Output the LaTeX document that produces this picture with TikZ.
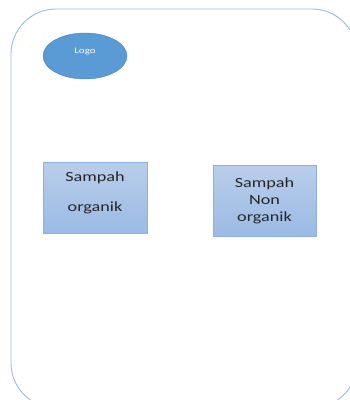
\documentclass[tikz,border=0pt]{standalone}
\usepackage{fontspec}
\setmainfont{Carlito}
\newfontfamily\kotakfont[FakeStretch=1.3]{Carlito}
\usepackage{tikz}
\usetikzlibrary{shapes.geometric,positioning,shadings}
\definecolor{garisbiru}{HTML}{95BBE8}
\definecolor{logobiru}{HTML}{5B9BD5}
\definecolor{logotepi}{HTML}{4A7FB5}
\definecolor{kotakatas}{HTML}{B9CEEA}
\definecolor{kotakbawah}{HTML}{9BBAE5}
\definecolor{kotaktepi}{HTML}{8AB0E0}
\tikzstyle{bingkai} = [draw=garisbiru, line width=0.9pt, rounded corners=45pt]
\tikzstyle{elipslogo} = [ellipse, minimum width=84pt, minimum height=46pt, inner sep=0pt, draw=logotepi, line width=0.4pt, fill=logobiru, text=white, text depth=11pt, font=\kotakfont\fontsize{8.5}{10}\selectfont]
\tikzstyle{kotaksampah} = [rectangle, minimum width=104pt, minimum height=71pt, align=center, draw=kotaktepi, line width=0.8pt, top color=kotakatas, bottom color=kotakbawah, text=black!85, font=\kotakfont\fontsize{14}{17}\selectfont]

\begin{document}
\begin{tikzpicture}[x=1pt, y=-1pt]
	\useasboundingbox (0,0) rectangle (349,400);
	% Bingkai
	\draw[bingkai] (11,9) rectangle (357,408);
	% Logo dan kotak
	\node (logo) [elipslogo] at (85,56) {Logo};
	\node (organik) [kotaksampah, text depth=11pt] at (95,197.5) {Sampah\\[13pt]organik};
	\node (nonorganik) [kotaksampah, minimum width=103pt] at (264.5,200.5) {Sampah\\Non\\organik};
\end{tikzpicture}
\end{document}
